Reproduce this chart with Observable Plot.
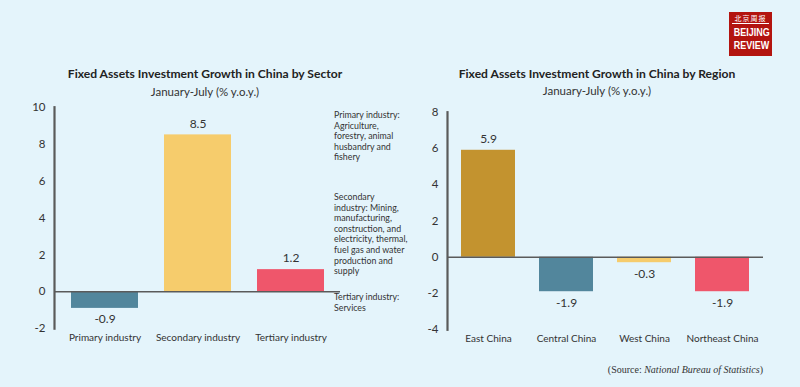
<!DOCTYPE html>
<html>
<head>
<meta charset="utf-8">
<script src="https://cdn.jsdelivr.net/npm/d3@7"></script>
<script src="https://cdn.jsdelivr.net/npm/@observablehq/plot@0.6"></script>
<style>
  html, body { margin: 0; padding: 0; }
  body { width: 800px; height: 387px; background: #e4f4fb; font-family: Lato, "Open Sans", sans-serif; }
  #wrap { position: relative; width: 800px; height: 387px; overflow: hidden; background: #e4f4fb; }
  .abs { position: absolute; }
  .title { font-weight: bold; font-size: 12.1px; color: #222; text-align: center; white-space: nowrap; transform: translateX(-50%); }
  .sub { font-size: 11.5px; color: #333; text-align: center; white-space: nowrap; transform: translateX(-50%); }
  .note { font-size: 8.8px; line-height: 10.6px; color: #333; width: 75px; }
  .src { font-family: "Liberation Serif", "DejaVu Serif", serif; font-size: 10px; color: #333; white-space: nowrap; }
  #logo { left: 729px; top: 12px; width: 43px; height: 44px; background: #b3140f; color: #fff; text-align: center; overflow: hidden; }
  .cn { font-family: "Noto Sans CJK SC", sans-serif; font-size: 7px; line-height: 10px; letter-spacing: 1px; margin: 1px 3px 0 3px; border-bottom: 1px solid #fff; }
  .en { font-family: "Liberation Sans", Arial, sans-serif; font-weight: bold; font-size: 11.5px; line-height: 12.5px; margin-top: 2px; transform: scaleX(0.78); transform-origin: center; white-space: nowrap; }
</style>
</head>
<body>
<div id="wrap">
  <div id="left" class="abs" style="left:0;top:0"></div>
  <div id="right" class="abs" style="left:400px;top:0"></div>
</div>
<script>
// ---- Data ----
const sectorCategories = ["Primary industry", "Secondary industry", "Tertiary industry"];
const sectorValues = [-0.9, 8.5, 1.2];
const sectorColors = ["#52869c", "#f6cc6c", "#ef566b"];
const sectorTicks = [-2, 0, 2, 4, 6, 8, 10];

const regionCategories = ["East China", "Central China", "West China", "Northeast China"];
const regionValues = [5.9, -1.9, -0.3, -1.9];
const regionColors = ["#c3932f", "#52869c", "#f6cc6c", "#ef566b"];
const regionTicks = [-4, -2, 0, 2, 4, 6, 8];

const leftTitle = "Fixed Assets Investment Growth in China by Sector";
const rightTitle = "Fixed Assets Investment Growth in China by Region";
const subtitle = "January-July (% y.o.y.)";
const notes = [
  "Primary industry: Agriculture, forestry, animal husbandry and fishery",
  "Secondary industry: Mining, manufacturing, construction, and electricity, thermal, fuel gas and water production and supply",
  "Tertiary industry: Services"
];

function barChart(cats, vals, colors, ticks, opts) {
  const data = cats.map((c, i) => ({cat: c, v: vals[i], color: colors[i]}));
  const pos = data.filter(d => d.v >= 0);
  const neg = data.filter(d => d.v < 0);
  const [lo, hi] = d3.extent(ticks);
  return Plot.plot({
    width: 400,
    height: 387,
    marginLeft: opts.ml,
    marginRight: opts.mr,
    marginTop: opts.mt,
    marginBottom: opts.mb,
    style: {background: "transparent", fontFamily: "Lato, 'Open Sans', sans-serif", color: "#333"},
    x: {domain: cats, paddingInner: opts.pi, paddingOuter: opts.po, label: null},
    y: {domain: [lo, hi], ticks: ticks, label: null},
    marks: [
      Plot.barY(data, {x: "cat", y: "v", fill: "color"}),
      Plot.ruleY([0], {stroke: "#5a5a5a", strokeWidth: 1.5}),
      Plot.frame({anchor: "left", stroke: "#5a5a5a", strokeWidth: 2.2}),
      Plot.axisY({ticks: ticks, tickSize: 0, tickPadding: 9, fontSize: 11.5, tickFormat: d => String(d), label: null}),
      Plot.axisX({tickSize: 0, tickPadding: 5, fontSize: 10, label: null}),
      Plot.text(pos, {x: "cat", y: "v", text: d => String(d.v), dy: -11, fontSize: 12, fill: "#333"}),
      Plot.text(neg, {x: "cat", y: "v", text: d => String(d.v), dy: 11, fontSize: 12, fill: "#333"})
    ]
  });
}

const leftChart = barChart(sectorCategories, sectorValues, sectorColors, sectorTicks,
  {ml: 54, mr: 60, mt: 106.7, mb: 58.8, pi: 0.28, po: 0.17});
const rightChart = barChart(regionCategories, regionValues, regionColors, regionTicks,
  {ml: 47, mr: 37, mt: 111.7, mb: 57.7, pi: 0.314, po: 0.165});

document.getElementById("left").appendChild(leftChart);
document.getElementById("right").appendChild(rightChart);

const wrap = document.getElementById("wrap");
function addDiv(cls, style, html) {
  const d = document.createElement("div");
  d.className = "abs " + cls;
  Object.assign(d.style, style);
  d.innerHTML = html;
  wrap.appendChild(d);
  return d;
}
addDiv("title", {left: "205px", top: "66px"}, leftTitle);
addDiv("sub", {left: "205px", top: "85px"}, subtitle);
addDiv("title", {left: "597px", top: "66px"}, rightTitle);
addDiv("sub", {left: "597px", top: "84px"}, subtitle);
addDiv("note", {left: "334px", top: "110px"}, notes[0]);
addDiv("note", {left: "334px", top: "192px"}, notes[1]);
addDiv("note", {left: "334px", top: "292px"}, notes[2]);
addDiv("src", {right: "37px", top: "364px"}, "(Source: <i>National Bureau of Statistics</i>)");
const logo = addDiv("", {}, "");
logo.id = "logo";
logo.innerHTML = '<div class="cn">北京周报</div><div class="en">BEIJING</div><div class="en" style="margin-top:0">REVIEW</div>';
</script>
</body>
</html>
